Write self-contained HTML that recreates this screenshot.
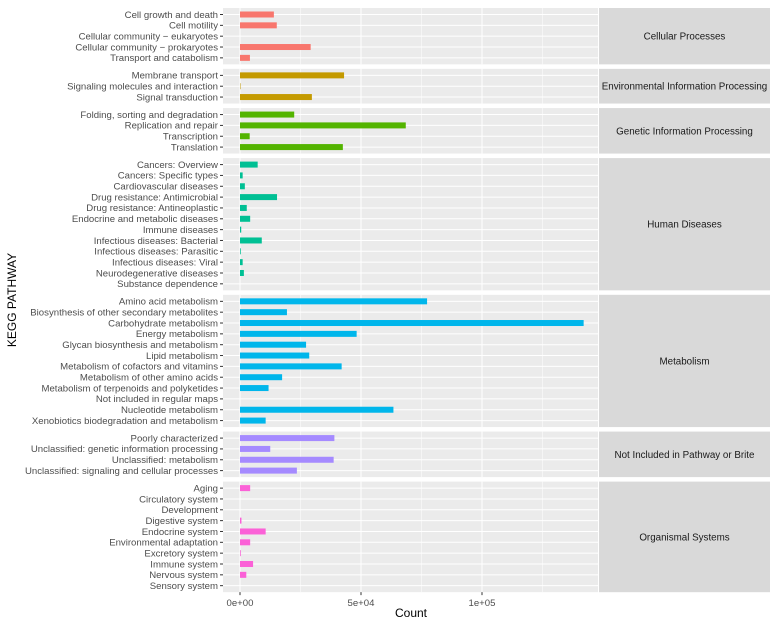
<!DOCTYPE html>
<html><head><meta charset="utf-8"><style>
html,body{margin:0;padding:0;background:#fff;}
svg{display:block;font-family:"Liberation Sans",Arial,sans-serif;}
</style></head><body>
<svg id="chart" width="780" height="622"></svg>
<script>
const groups = ["Cellular Processes","Environmental Information Processing","Genetic Information Processing","Human Diseases","Metabolism","Not Included in Pathway or Brite","Organismal Systems"];
const groupColors = ["#F8766D","#C49A00","#53B400","#00C094","#00B6EB","#A58AFF","#FB61D7"];
const cellularLabels = ["Cell growth and death","Cell motility","Cellular community − eukaryotes","Cellular community − prokaryotes","Transport and catabolism"];
const cellularValues = [14000,15200,0,29200,4100];
const envLabels = ["Membrane transport","Signaling molecules and interaction","Signal transduction"];
const envValues = [43000,200,29700];
const geneticLabels = ["Folding, sorting and degradation","Replication and repair","Transcription","Translation"];
const geneticValues = [22400,68500,4000,42500];
const humanLabels = ["Cancers: Overview","Cancers: Specific types","Cardiovascular diseases","Drug resistance: Antimicrobial","Drug resistance: Antineoplastic","Endocrine and metabolic diseases","Immune diseases","Infectious diseases: Bacterial","Infectious diseases: Parasitic","Infectious diseases: Viral","Neurodegenerative diseases","Substance dependence"];
const humanValues = [7300,1100,2000,15300,2800,4200,500,9000,300,1100,1600,0];
const metabLabels = ["Amino acid metabolism","Biosynthesis of other secondary metabolites","Carbohydrate metabolism","Energy metabolism","Glycan biosynthesis and metabolism","Lipid metabolism","Metabolism of cofactors and vitamins","Metabolism of other amino acids","Metabolism of terpenoids and polyketides","Not included in regular maps","Nucleotide metabolism","Xenobiotics biodegradation and metabolism"];
const metabValues = [77300,19400,142000,48200,27300,28600,42000,17400,11800,0,63400,10600];
const notInclLabels = ["Poorly characterized","Unclassified: genetic information processing","Unclassified: metabolism","Unclassified: signaling and cellular processes"];
const notInclValues = [39000,12500,38700,23500];
const organLabels = ["Aging","Circulatory system","Development","Digestive system","Endocrine system","Environmental adaptation","Excretory system","Immune system","Nervous system","Sensory system"];
const organValues = [4200,0,0,600,10600,4200,300,5400,2600,0];
const xTicks = [0,50000,100000];
const xTickLabels = ["0e+00","5e+04","1e+05"];
const xMinor = [25000,75000,125000];

const labelSets=[cellularLabels,envLabels,geneticLabels,humanLabels,metabLabels,notInclLabels,organLabels];
const valueSets=[cellularValues,envValues,geneticValues,humanValues,metabValues,notInclValues,organValues];
const NS="http://www.w3.org/2000/svg";
const svg=document.getElementById('chart');
function mk(tag,attrs,parent){const e=document.createElementNS(NS,tag);for(const k in attrs)e.setAttribute(k,attrs[k]);(parent||svg).appendChild(e);return e;}
const PX0=223,PX1=598,SX0=599,SX1=770;
const X0=240,PER=24.2/10000;
function xs(v){return X0+v*PER;}
const step=10.84,gap=4.5;
let y=8;
for(let g=0;g<groups.length;g++){
  const labels=labelSets[g],vals=valueSets[g];
  const h=(labels.length-1+1.2)*step;
  const gp=mk('g',{});
  
  
  mk('rect',{x:PX0,y:y,width:PX1-PX0,height:h,fill:'#ebebeb'},gp);
  xMinor.forEach(v=>{if(xs(v)<PX1)mk('line',{x1:xs(v),x2:xs(v),y1:y,y2:y+h,stroke:'#fff','stroke-width':0.5},gp);});
  xTicks.forEach(v=>mk('line',{x1:xs(v),x2:xs(v),y1:y,y2:y+h,stroke:'#fff','stroke-width':1},gp));
  labels.forEach((lab,i)=>{
    const cy=y+0.6*step+i*step;
    mk('line',{x1:PX0,x2:PX1,y1:cy,y2:cy,stroke:'#fff','stroke-width':1},gp);
    const w=Math.max(0,xs(vals[i])-X0);
    const b=mk('rect',{x:X0,y:cy-3,width:w,height:6,fill:groupColors[g]},gp);
    
    
    mk('line',{x1:PX0-3,x2:PX0,y1:cy,y2:cy,stroke:'#333','stroke-width':1},gp);
    const t=mk('text',{x:PX0-5,y:cy+3.3,'text-anchor':'end','font-size':'9.6',fill:'#4d4d4d'},gp);
    t.textContent=lab;
    
    
  });
  mk('rect',{x:SX0,y:y,width:SX1-SX0,height:h,fill:'#d9d9d9'},gp);
  const st=mk('text',{x:(SX0+SX1)/2,y:y+h/2+3.5,'text-anchor':'middle','font-size':'9.8',fill:'#1a1a1a'},gp);
  st.textContent=groups[g];
  
  
  y+=h+gap;
}
const axisY=y-gap;
xTicks.forEach((v,i)=>{
  mk('line',{x1:xs(v),x2:xs(v),y1:axisY,y2:axisY+3,stroke:'#333'});
  const t=mk('text',{x:xs(v),y:axisY+14,'text-anchor':'middle','font-size':'9.6',fill:'#4d4d4d'});
  t.textContent=xTickLabels[i];
  
  
});
const xt=mk('text',{x:411,y:617,'text-anchor':'middle','font-size':'12',fill:'#000'});
xt.textContent='Count';


const yt=mk('text',{x:0,y:0,'text-anchor':'middle','font-size':'12',fill:'#000',transform:'translate(16,300) rotate(-90)'});
yt.textContent='KEGG PATHWAY';


</script>
</body></html>
